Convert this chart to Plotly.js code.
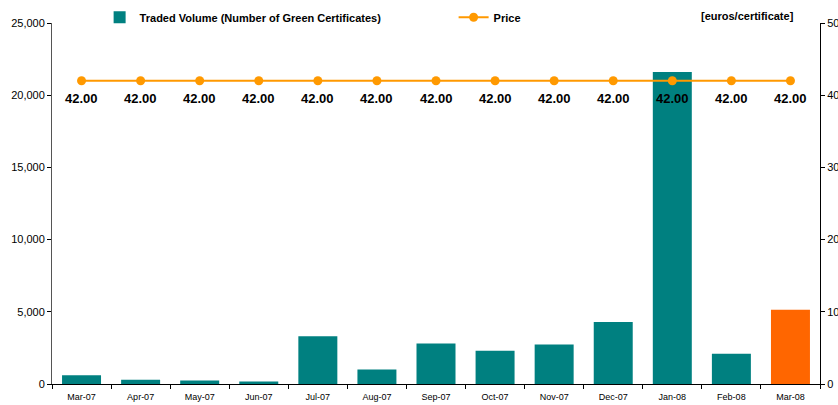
<!DOCTYPE html>
<html><head><meta charset="utf-8">
<script src="https://cdn.plot.ly/plotly-3.0.1.min.js"></script>
<style>html,body{margin:0;padding:0;overflow:hidden;background:#fff}#chart{width:838px;height:405px}</style>
</head><body><div id="chart"></div>
<script>
const months = ["Mar-07","Apr-07","May-07","Jun-07","Jul-07","Aug-07","Sep-07","Oct-07","Nov-07","Dec-07","Jan-08","Feb-08","Mar-08"];
const volume = [600, 300, 250, 180, 3300, 1000, 2800, 2300, 2730, 4300, 21600, 2100, 5150];
const price = [42, 42, 42, 42, 42, 42, 42, 42, 42, 42, 42, 42, 42];
const barColors = ["#008080","#008080","#008080","#008080","#008080","#008080","#008080","#008080","#008080","#008080","#008080","#008080","#FF6600"];
const leftTicks = [0, 5000, 10000, 15000, 20000, 25000];
const rightTicks = [0, 10, 20, 30, 40, 50];

const font = "Liberation Sans, Arial, sans-serif";
const traces = [
  {type:'bar', x: months, y: volume, name:'Traded Volume (Number of Green Certificates)',
   marker:{color: barColors}, width:0.66, yaxis:'y', hoverinfo:'skip'},
  {type:'scatter', mode:'lines+markers', x: months, y: price, name:'Price', yaxis:'y2',
   line:{color:'#FF9900', width:2}, marker:{color:'#FF9900', size:9}, cliponaxis:false}
];
const priceLabels = months.map((m, i) => ({
  text: price[i].toFixed(2), xref:'x', yref:'y2', x: m, y: price[i], yshift:-17.5,
  showarrow:false, xanchor:'center', yanchor:'middle',
  font:{family:font, size:13, color:'#000', weight:'bold'}
}));
const layout = {
  width:838, height:405,
  margin:{l:52, r:17.5, t:22.5, b:20.5, autoexpand:false},
  paper_bgcolor:'#fff', plot_bgcolor:'#fff',
  font:{family:font, color:'#000'},
  showlegend:true,
  legend:{orientation:'h', x:0.062, xanchor:'left', y:1.016, yanchor:'middle',
    font:{family:font, size:11, color:'#000', weight:'bold'}, bgcolor:'rgba(0,0,0,0)',
    entrywidth:309, entrywidthmode:'pixels', traceorder:'normal'},
  xaxis:{type:'category', showgrid:false, showline:true, linecolor:'#000', linewidth:1,
    ticks:'outside', ticklen:4, tickcolor:'#000', tickson:'boundaries', ticklabelstandoff:4,
    tickfont:{family:font, size:9, color:'#000'}, zeroline:false, range:[-0.5,12.5]},
  yaxis:{range:[0,25000], tickvals:leftTicks, ticktext:leftTicks.map(v=>v.toLocaleString('en-US')),
    showgrid:false, showline:true, linecolor:'#555', linewidth:1, ticks:'outside', ticklen:4,
    tickcolor:'#000', tickfont:{family:font, size:11, color:'#000'}, zeroline:false},
  yaxis2:{range:[0,50], tickvals:rightTicks, overlaying:'y', side:'right', showgrid:false,
    showline:true, linecolor:'#000', linewidth:1, ticks:'outside', ticklen:4, tickcolor:'#000',
    tickfont:{family:font, size:11, color:'#000'}, zeroline:false},
  annotations:[{text:'[euros/certificate]', xref:'paper', yref:'paper', x:0.905, y:1.02,
    xanchor:'center', yanchor:'middle', showarrow:false,
    font:{family:font, size:11, color:'#000', weight:'bold'}}].concat(priceLabels),
  bargap:0.34
};
Plotly.newPlot('chart', traces, layout, {displayModeBar:false, staticPlot:true});
</script></body></html>
